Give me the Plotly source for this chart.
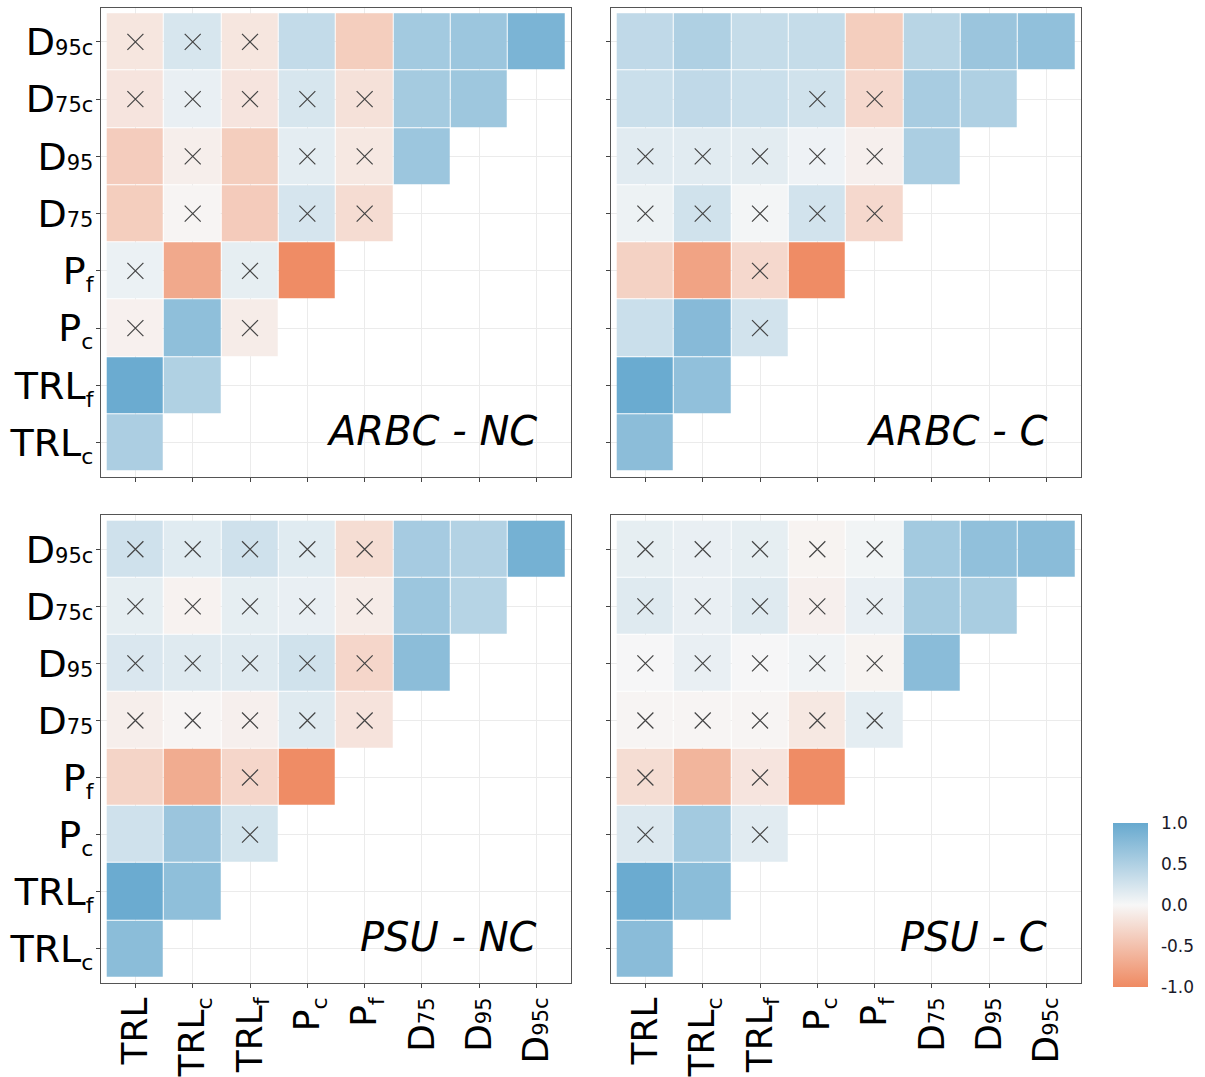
import plotly.graph_objects as go

# ---------------- data ----------------
SUB = "<sub><span style='font-size:22px'>{}</span></sub>"
DSUB = "D<span style='font-size:21px'>{}</span>"
x_labels = ["TRL", "TRL" + SUB.format("c"), "TRL" + SUB.format("f"), "P" + SUB.format("c"),
            "P" + SUB.format("f"), DSUB.format("75"), DSUB.format("95"), DSUB.format("95c")]
y_labels = ["TRL" + SUB.format("c"), "TRL" + SUB.format("f"), "P" + SUB.format("c"),
            "P" + SUB.format("f"), DSUB.format("75"), DSUB.format("95"),
            DSUB.format("75c"), DSUB.format("95c")]
panel_titles = ["ARBC - NC", "ARBC - C", "PSU - NC", "PSU - C"]

# correlation values, rows from bottom (TRLc) to top (D95c); row i has i cells
arbc_nc_r = [
    [0.52],
    [0.97, 0.49],
    [-0.06, 0.72, -0.10],
    [0.08, -0.72, 0.12, -0.98],
    [-0.38, -0.03, -0.40, 0.23, -0.25],
    [-0.39, -0.08, -0.38, 0.13, -0.14, 0.63],
    [-0.17, 0.10, -0.17, 0.22, -0.20, 0.57, 0.62],
    [-0.16, 0.22, -0.16, 0.36, -0.38, 0.58, 0.63, 0.86],
]
arbc_nc_ns = [
    [0],
    [0, 0],
    [1, 0, 1],
    [1, 0, 1, 0],
    [0, 1, 0, 1, 1],
    [0, 1, 0, 1, 1, 0],
    [1, 1, 1, 1, 1, 0, 0],
    [1, 1, 1, 0, 0, 0, 0, 0],
]
arbc_c_r = [
    [0.74],
    [0.98, 0.71],
    [0.31, 0.78, 0.26],
    [-0.34, -0.77, -0.28, -0.98],
    [0.07, 0.27, 0.03, 0.26, -0.28],
    [0.15, 0.15, 0.14, 0.06, -0.07, 0.53],
    [0.31, 0.38, 0.31, 0.27, -0.28, 0.55, 0.50],
    [0.38, 0.50, 0.35, 0.35, -0.38, 0.44, 0.64, 0.71],
]
arbc_c_ns = [
    [0],
    [0, 0],
    [0, 0, 1],
    [0, 0, 1, 0],
    [1, 1, 1, 1, 1],
    [1, 1, 1, 1, 1, 0],
    [0, 0, 0, 1, 1, 0, 0],
    [0, 0, 0, 0, 0, 0, 0, 0],
]
psu_nc_r = [
    [0.75],
    [0.97, 0.72],
    [0.28, 0.64, 0.25],
    [-0.32, -0.69, -0.30, -0.98],
    [-0.08, -0.03, -0.07, 0.17, -0.18],
    [0.20, 0.17, 0.17, 0.27, -0.30, 0.74],
    [0.12, -0.05, 0.12, 0.10, -0.10, 0.63, 0.45],
    [0.28, 0.16, 0.28, 0.16, -0.24, 0.56, 0.47, 0.90],
]
psu_nc_ns = [
    [0],
    [0, 0],
    [0, 0, 1],
    [0, 0, 1, 0],
    [1, 1, 1, 1, 1],
    [1, 1, 1, 1, 1, 0],
    [1, 1, 1, 1, 1, 0, 0],
    [1, 1, 1, 1, 1, 0, 0, 0],
]
psu_c_r = [
    [0.76],
    [0.97, 0.75],
    [0.19, 0.58, 0.15],
    [-0.24, -0.61, -0.17, -0.98],
    [-0.03, -0.03, -0.03, -0.14, 0.13],
    [0.01, 0.10, 0.01, 0.05, -0.04, 0.76],
    [0.17, 0.10, 0.17, -0.07, 0.10, 0.57, 0.54],
    [0.12, 0.10, 0.12, -0.04, 0.04, 0.58, 0.71, 0.76],
]
psu_c_ns = [
    [0],
    [0, 0],
    [1, 0, 1],
    [1, 0, 1, 0],
    [1, 1, 1, 1, 1],
    [1, 1, 1, 1, 1, 0],
    [1, 1, 1, 1, 1, 0, 0],
    [1, 1, 1, 1, 1, 0, 0, 0],
]

panels_r = [arbc_nc_r, arbc_c_r, psu_nc_r, psu_c_r]
panels_ns = [arbc_nc_ns, arbc_c_ns, psu_nc_ns, psu_c_ns]

colorbar_ticks = [-1.0, -0.5, 0.0, 0.5, 1.0]
colorbar_ticktext = ["-1.0", "-0.5", "0.0", "0.5", "1.0"]

# ---------------- layout geometry ----------------
W, H = 1205, 1077
x_domains = [[101 / W, 571 / W], [611 / W, 1081 / W]]
y_domains = [[1 - 477 / H, 1 - 7.5 / H], [1 - 983 / H, 1 - 515 / H]]

FONT = "DejaVu Sans"
pos = list(range(1, 9))

fig = go.Figure()

for p in range(4):
    rvals = panels_r[p]
    ns = panels_ns[p]
    z = [[None] * 8 for _ in range(8)]
    cx, cy = [], []
    for i, row in enumerate(rvals):
        for j, v in enumerate(row):
            z[i][j] = v
            if ns[i][j]:
                cx.append(pos[j])
                cy.append(pos[i])
    ax = "" if p == 0 else str(p + 1)
    fig.add_trace(go.Heatmap(
        z=z, x=pos, y=pos, coloraxis="coloraxis", xgap=1, ygap=1,
        hoverongaps=False, xaxis="x" + ax, yaxis="y" + ax,
    ))
    fig.add_trace(go.Scatter(
        x=cx, y=cy, mode="markers", xaxis="x" + ax, yaxis="y" + ax,
        marker=dict(symbol="x-thin", size=16, line=dict(width=1.2, color="#444444"),
                    color="#444444"),
        showlegend=False, hoverinfo="skip",
    ))
    col = p % 2
    rowp = p // 2
    axis_common = dict(
        range=[0.4, 8.6], tickmode="array", tickvals=pos,
        showgrid=True, gridcolor="#ebebeb", gridwidth=1, zeroline=False,
        showline=True, linecolor="#555555", linewidth=1, mirror=True,
        ticks="outside", ticklen=4, tickcolor="#444444", tickwidth=1,
        automargin=False, fixedrange=True, ticklabelstandoff=-5,
    )
    fig.layout["xaxis" + ax] = dict(
        axis_common, domain=x_domains[col], anchor="y" + ax,
        ticktext=x_labels, tickangle=-90, showticklabels=(rowp == 1),
        tickfont=dict(family=FONT, size=36, color="black"),
    )
    fig.layout["yaxis" + ax] = dict(
        axis_common, domain=y_domains[rowp], anchor="x" + ax,
        ticktext=y_labels, showticklabels=(col == 0),
        tickfont=dict(family=FONT, size=38, color="black"),
    )
    fig.add_annotation(
        x=8.05, y=1.2, xref="x" + ax, yref="y" + ax, text=panel_titles[p],
        showarrow=False, xanchor="right", yanchor="middle",
        font=dict(family=FONT, size=40, color="black", style="italic"),
    )

fig.update_layout(
    width=W, height=H,
    margin=dict(l=0, r=0, t=0, b=0),
    paper_bgcolor="white", plot_bgcolor="white",
    showlegend=False,
    coloraxis=dict(
        cmin=-1, cmax=1,
        colorscale=[[0, "#EF8A62"], [0.5, "#F7F7F7"], [1, "#67A9CF"]],
        colorbar=dict(
            x=1113 / W, xanchor="left", y=1 - 905 / H, yanchor="middle",
            thickness=35, thicknessmode="pixels", len=164, lenmode="pixels",
            outlinewidth=0, tickmode="array", tickvals=colorbar_ticks,
            ticktext=colorbar_ticktext, ticks="outside", ticklen=10,
            tickcolor="white", tickwidth=1,
            tickfont=dict(family=FONT, size=17, color="#1a1a2a"),
            xpad=0, ypad=0,
        ),
    ),
)

fig.write_html("out.html")
